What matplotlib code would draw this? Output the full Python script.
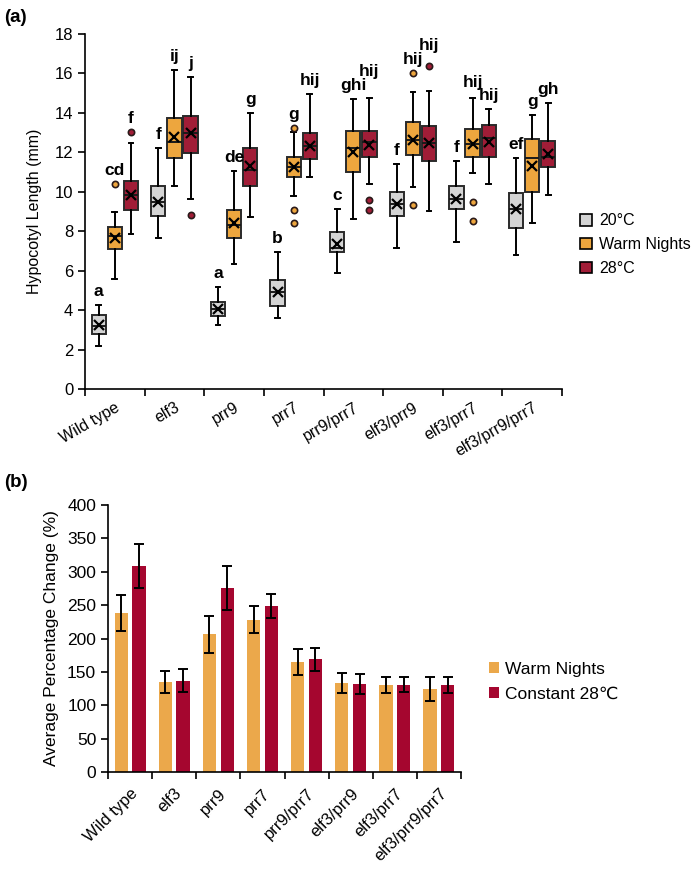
import matplotlib.pyplot as plt
import numpy as np
from matplotlib.patches import Patch

plt.rcParams['font.family'] = ['Liberation Sans', 'DejaVu Sans']

genotypes = ['Wild type', 'elf3', 'prr9', 'prr7', 'prr9/prr7',
             'elf3/prr9', 'elf3/prr7', 'elf3/prr9/prr7']
conditions = ['20°C', 'Warm Nights', '28°C']

# (a) box plot stats, one row per condition, one value per genotype
whislo = [[2.20, 7.64, 3.25, 3.59, 5.87, 7.17, 7.47, 6.78],
          [5.59, 10.27, 6.33, 9.79, 8.64, 10.23, 10.97, 8.40],
          [7.84, 9.65, 8.72, 10.77, 10.38, 9.04, 10.40, 9.85]]
q1 = [[2.78, 8.77, 3.69, 4.19, 6.93, 8.79, 9.11, 8.18],
      [7.10, 11.70, 7.67, 10.77, 10.99, 11.87, 11.78, 9.99],
      [9.06, 11.99, 10.31, 11.65, 11.76, 11.58, 11.78, 11.27]]
med = [[3.21, 9.47, 4.06, 4.90, 7.13, 9.38, 9.62, 9.11],
       [7.76, 12.53, 8.31, 11.24, 12.20, 12.63, 12.40, 11.70],
       [9.85, 12.97, 11.12, 12.32, 12.51, 12.46, 12.71, 11.78]]
q3 = [[3.74, 10.31, 4.41, 5.54, 7.98, 9.97, 10.28, 9.92],
      [8.23, 13.76, 9.09, 11.75, 13.10, 13.52, 13.18, 12.68],
      [10.53, 13.85, 12.22, 13.00, 13.10, 13.35, 13.39, 12.58]]
whishi = [[4.28, 12.20, 5.17, 6.94, 9.11, 11.39, 11.58, 11.70],
          [8.99, 16.18, 11.07, 13.05, 14.71, 15.04, 14.77, 13.89],
          [12.48, 15.84, 14.00, 14.94, 14.78, 15.13, 14.18, 14.49]]
means = [[3.25, 9.50, 4.05, 4.92, 7.35, 9.38, 9.62, 9.13],
         [7.65, 12.80, 8.42, 11.24, 12.00, 12.63, 12.42, 11.32],
         [9.83, 12.97, 11.29, 12.32, 12.35, 12.46, 12.54, 11.92]]
fliers = [[[], [], [], [], [], [], [], []],
          [[10.41], [], [], [13.25, 9.08, 8.43], [], [16.04, 9.34], [9.48, 8.52], []],
          [[13.05], [8.84], [], [], [9.58, 9.08], [16.4], [], []]]
letters = [['a', 'f', 'a', 'b', 'c', 'f', 'f', 'ef'],
           ['cd', 'ij', 'de', 'g', 'ghi', 'hij', 'hij', 'g'],
           ['f', 'j', 'g', 'hij', 'hij', 'hij', 'hij', 'gh']]

# (b) percentage change
pct_warm = [238, 135, 206, 228, 165, 133, 130, 125]
err_warm = [27, 16, 27, 20, 20, 15, 12, 18]
pct_const = [308, 137, 276, 249, 169, 132, 131, 130]
err_const = [33, 17, 33, 18, 17, 15, 11, 12]

box_colors = ['#d4d4d4', '#eda63e', '#a11d37']
bar_colors = ['#eba84b', '#a5062f']

fig = plt.figure(figsize=(6.98, 8.71), dpi=100)
W, H = 698, 871
ax1 = fig.add_axes([85 / W, 1 - 389 / H, (562 - 85) / W, (389 - 34) / H])
ax2 = fig.add_axes([108 / W, 1 - 772 / H, (461 - 108) / W, (772 - 505) / H])

n = len(genotypes)
centers = np.arange(n) + 0.5
offsets = [-0.27, 0.0, 0.27]

# ---- panel (a) ----
label_y = np.zeros((3, n))
for c in range(3):
    stats = []
    for g in range(n):
        stats.append(dict(whislo=whislo[c][g], q1=q1[c][g], med=med[c][g],
                          q3=q3[c][g], whishi=whishi[c][g], mean=means[c][g],
                          fliers=fliers[c][g]))
        label_y[c, g] = max([whishi[c][g]] + fliers[c][g]) + 0.3
    ax1.bxp(stats, positions=centers + offsets[c], widths=0.24,
            patch_artist=True, showmeans=True, capwidths=0.08,
            boxprops=dict(facecolor=box_colors[c], edgecolor='#2a2a2a', linewidth=1.4),
            medianprops=dict(color='#1a1a1a', linewidth=1.4),
            whiskerprops=dict(color='black', linewidth=1.4),
            capprops=dict(color='black', linewidth=1.4),
            meanprops=dict(marker='x', markeredgecolor='black', markersize=7,
                           markeredgewidth=1.6),
            flierprops=dict(marker='o', markerfacecolor=box_colors[c],
                            markeredgecolor='#2a1a1a', markersize=4.5,
                            markeredgewidth=1.2))

# nudge long letter labels apart inside a group
for g in range(n):
    for c in range(1, 3):
        a, b = label_y[c - 1, g], label_y[c, g]
        if len(letters[c - 1][g]) + len(letters[c][g]) >= 5 and abs(a - b) < 0.7:
            if b >= a:
                label_y[c, g] = a + 0.7
            else:
                label_y[c - 1, g] = b + 0.7

for c in range(3):
    for g in range(n):
        ax1.text(centers[g] + offsets[c], label_y[c, g], letters[c][g],
                 ha='center', va='bottom', fontsize=12.5, fontweight='bold')

ax1.set_xlim(0, n)
ax1.set_ylim(0, 18)
ax1.set_yticks(np.arange(0, 19, 2))
ax1.set_xticks(np.arange(n + 1))
ax1.set_xticklabels([])
ax1.set_xticks(centers, minor=True)
ax1.set_xticklabels(genotypes, minor=True, rotation=30, ha='right',
                    rotation_mode='anchor', fontsize=11.5)
ax1.tick_params(axis='x', which='minor', length=0, pad=8)
ax1.tick_params(axis='x', which='major', length=5, width=1.2)
ax1.tick_params(axis='y', length=5, width=1.2, labelsize=12)
ax1.set_ylabel('Hypocotyl Length (mm)', fontsize=11.5, labelpad=9)
for s in ['top', 'right']:
    ax1.spines[s].set_visible(False)
for s in ['left', 'bottom']:
    ax1.spines[s].set_linewidth(1.2)

handles = [Patch(facecolor=box_colors[c], edgecolor='black', linewidth=1.2)
           for c in range(3)]
fig.legend(handles, conditions, loc='upper left',
           bbox_to_anchor=(574 / W, 1 - 207 / H), frameon=False, fontsize=11.5,
           handlelength=0.75, handleheight=0.75, handletextpad=0.4,
           labelspacing=0.55, borderaxespad=0)

# ---- panel (b) ----
bw = 0.3
ax2.bar(centers - 0.2, pct_warm, bw, color=bar_colors[0], label='Warm Nights')
ax2.bar(centers + 0.2, pct_const, bw, color=bar_colors[1], label='Constant 28℃')
ax2.errorbar(centers - 0.2, pct_warm, yerr=err_warm, fmt='none', ecolor='black',
             elinewidth=1.4, capsize=3.5, capthick=1.4)
ax2.errorbar(centers + 0.2, pct_const, yerr=err_const, fmt='none', ecolor='black',
             elinewidth=1.4, capsize=3.5, capthick=1.4)
ax2.set_xlim(0, n)
ax2.set_ylim(0, 400)
ax2.set_yticks(np.arange(0, 401, 50))
ax2.set_xticks(np.arange(n + 1))
ax2.set_xticklabels([])
ax2.set_xticks(centers, minor=True)
ax2.set_xticklabels(genotypes, minor=True, rotation=45, ha='right',
                    rotation_mode='anchor', fontsize=12)
ax2.tick_params(axis='x', which='minor', length=0, pad=10)
ax2.tick_params(axis='x', which='major', length=5, width=1.2)
ax2.tick_params(axis='y', length=5, width=1.2, labelsize=12.5)
ax2.set_ylabel('Average Percentage Change (%)', fontsize=12.5, labelpad=6)
for s in ['top', 'right']:
    ax2.spines[s].set_visible(False)
for s in ['left', 'bottom']:
    ax2.spines[s].set_linewidth(1.2)
fig.legend(*ax2.get_legend_handles_labels(), loc='upper left',
           bbox_to_anchor=(482 / W, 1 - 655 / H), frameon=False, fontsize=12.5,
           handlelength=0.6, handleheight=0.6, handletextpad=0.3,
           labelspacing=0.55, borderaxespad=0)

fig.text(4 / W, 1 - 18 / H, '(a)', fontsize=13.5, fontweight='bold', va='center')
fig.text(4 / W, 1 - 482 / H, '(b)', fontsize=13.5, fontweight='bold', va='center')

fig.savefig('out.png', dpi=100)
